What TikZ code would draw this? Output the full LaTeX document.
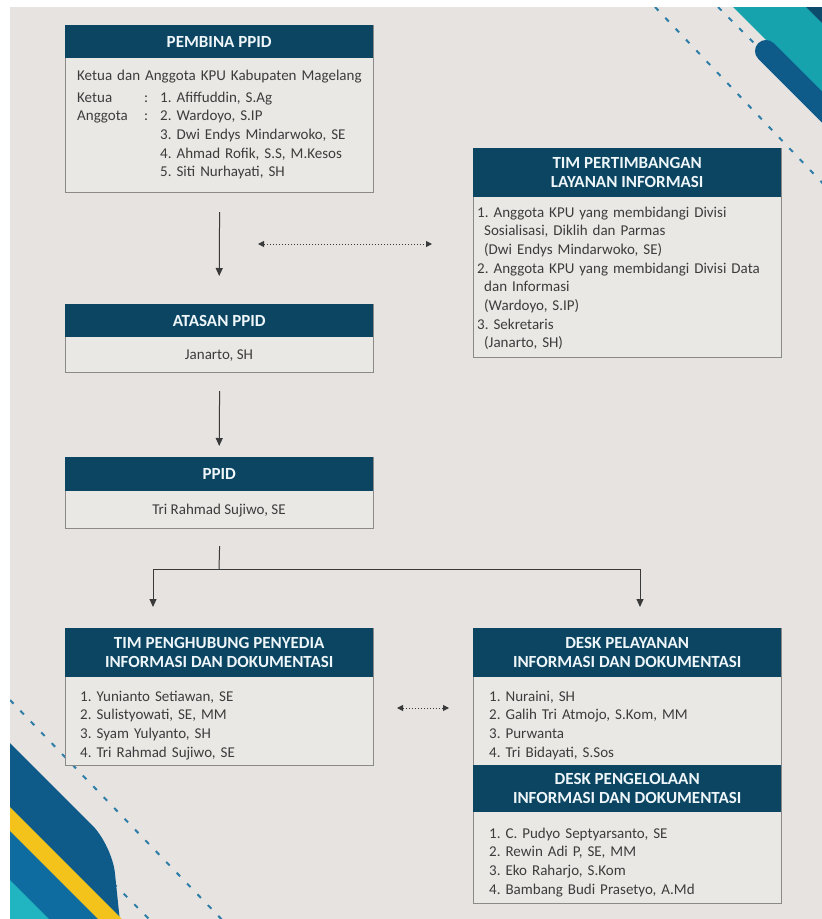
\documentclass[tikz,border=0pt]{standalone}
\usepackage{fontspec}
\setmainfont{Carlito}
\usetikzlibrary{arrows.meta}
\frenchspacing
\definecolor{bgc}{HTML}{E6E3E0}
\definecolor{hdblue}{HTML}{0B4561}
\definecolor{titlec}{HTML}{EEF6FA}
\definecolor{textc}{HTML}{3C3C3C}
\definecolor{boxgray}{HTML}{8C8A88}
\definecolor{boxc}{HTML}{EAE8E5}
\definecolor{linec}{HTML}{3A3A3A}
\definecolor{dashc}{HTML}{2F7EA8}
\definecolor{tealc}{HTML}{17A3AE}
\definecolor{navyc}{HTML}{0C4B6B}
\definecolor{bandc}{HTML}{0E5B8A}
\definecolor{yelc}{HTML}{F3C31C}
\definecolor{bluc}{HTML}{0F6CA0}
\definecolor{cync}{HTML}{21B5C2}
\begin{document}
\begin{tikzpicture}
    [x=1pt,y=-1pt,
    bx/.style={draw=boxgray,line width=1.2pt,fill=boxc,minimum width=308pt,inner sep=0pt,anchor=north west},
    hd/.style={fill=hdblue,text=titlec,font=\fontsize{17}{19}\selectfont\bfseries,minimum width=308pt,minimum height=33pt,inner sep=0pt,anchor=north west,align=center},
    tx/.style={text=textc,font=\fontsize{15}{18.7}\selectfont,inner sep=0pt,anchor=base west,text width=300pt,align=left},
    arr/.style={draw=linec,line width=1pt,-{Triangle[width=7pt,length=8pt]}},
    dots/.style={draw=linec,line width=1pt,dotted,{Triangle[width=6pt,length=6pt]}-{Triangle[width=6pt,length=6pt]}},
    dashline/.style={dashc,line width=2pt,dash pattern=on 5pt off 10pt}]
    \useasboundingbox (0,0) rectangle (822,919);
    \fill[white] (0,0) rectangle (822,919);
    \fill[bgc] (10,7) rectangle (822,919);
    % corner stripes
    \begin{scope}
    \clip (10,7) rectangle (822,919);
    \fill[tealc] (733,7) -- (822,7) -- (822,96) -- cycle;
    \fill[navyc] (806,7) -- (822,7) -- (822,23) -- cycle;
    \draw[dashline] (655,7) -- (830,191);
    \draw[dashline] (718,7) -- (762,51);
    \draw[bandc,line width=22pt,line cap=round] (766,51) -- (860,145);
    \draw[dashline] (10,700) -- (230,928);
    \draw[dashline] (60,830) -- (160,930);
    \fill[bandc,rounded corners=28pt] (-20,713) -- (112,845) -- (124,960) -- (-20,960) -- cycle;
    \fill[yelc] (-20,777) -- (250,1047) -- (-20,1047) -- cycle;
    \fill[bluc] (-20,801) -- (250,1071) -- (-20,1071) -- cycle;
    \fill[cync] (-20,850) -- (250,1120) -- (-20,1120) -- cycle;
    \end{scope}
    % boxes
    \node[bx,minimum height=167pt](pembina) at (65,25){};
    \node[hd](pembinaH) at (65,25){PEMBINA PPID};
    \node[tx](pbA) at (77,80){Ketua dan Anggota KPU Kabupaten Magelang};
    \node[tx](pbB) at (77,102){Ketua\\Anggota};
    \node[tx](pbC) at (144,102){:\\:};
    \node[tx](pbD) at (160,102){1. Afiffuddin, S.Ag\\2. Wardoyo, S.IP\\3. Dwi Endys Mindarwoko, SE\\4. Ahmad Rofik, S.S, M.Kesos\\5. Siti Nurhayati, SH};
    \node[bx,minimum height=209pt](timP) at (473,148){};
    \node[hd,minimum height=49pt](timPH) at (473,148){TIM PERTIMBANGAN\\LAYANAN INFORMASI};
    \node[tx](tpA) at (477,217){1. Anggota KPU yang membidangi Divisi\\\hspace*{7pt}Sosialisasi, Diklih dan Parmas\\\hspace*{7pt}(Dwi Endys Mindarwoko, SE)\\2. Anggota KPU yang membidangi Divisi Data\\\hspace*{7pt}dan Informasi\\\hspace*{7pt}(Wardoyo, S.IP)\\3. Sekretaris\\\hspace*{7pt}(Janarto, SH)};
    \node[bx,minimum height=68pt](atasan) at (65,304){};
    \node[hd](atasanH) at (65,304){ATASAN PPID};
    \node[tx,anchor=base,text width=,align=center](atA) at (219,359){Janarto, SH};
    \node[bx,minimum height=71pt](ppid) at (65,457){};
    \node[hd,minimum height=34pt](ppidH) at (65,457){PPID};
    \node[tx,anchor=base,text width=,align=center](ppA) at (219,514){Tri Rahmad Sujiwo, SE};
    \node[bx,minimum height=137pt](timH) at (65,628){};
    \node[hd,minimum height=49pt](timHH) at (65,628){TIM PENGHUBUNG PENYEDIA\\INFORMASI DAN DOKUMENTASI};
    \node[tx](thA) at (80,701){1. Yunianto Setiawan, SE\\2. Sulistyowati, SE, MM\\3. Syam Yulyanto, SH\\4. Tri Rahmad Sujiwo, SE};
    \node[bx,minimum height=275pt](desk) at (473,628){};
    \node[hd,minimum height=49pt](deskH) at (473,628){DESK PELAYANAN\\INFORMASI DAN DOKUMENTASI};
    \node[tx](dkA) at (489,701){1. Nuraini, SH\\2. Galih Tri Atmojo, S.Kom, MM\\3. Purwanta\\4. Tri Bidayati, S.Sos};
    \node[hd,minimum height=47pt](kelolaH) at (473,765){DESK PENGELOLAAN\\INFORMASI DAN DOKUMENTASI};
    \node[tx](dkB) at (489,838){1. C. Pudyo Septyarsanto, SE\\2. Rewin Adi P, SE, MM\\3. Eko Raharjo, S.Kom\\4. Bambang Budi Prasetyo, A.Md};
    % connectors
    \coordinate (fork) at (219,569);
    \coordinate (forkL) at (153,569);
    \coordinate (forkR) at (640,569);
    \coordinate (tipL) at (153,607);
    \coordinate (tipR) at (640,607);
    \coordinate (dotA) at (258,244);
    \coordinate (dotB) at (432,244);
    \coordinate (dotC) at (397,708);
    \coordinate (dotD) at (449,708);
    \draw[arr] ([yshift=-19pt]pembina.south) -- ([yshift=28pt]atasanH.north);
    \draw[arr] ([yshift=-18pt]atasan.south) -- ([yshift=11pt]ppidH.north);
    \draw[draw=linec,line width=1pt] ([yshift=-17pt]ppid.south) -- (fork);
    \draw[draw=linec,line width=1pt] (forkL) -- (forkR);
    \draw[arr] (forkL) -- (tipL);
    \draw[arr] (forkR) -- (tipR);
    \draw[dots] (dotA) -- (dotB);
    \draw[dots] (dotC) -- (dotD);
    \end{tikzpicture}
\end{document}
